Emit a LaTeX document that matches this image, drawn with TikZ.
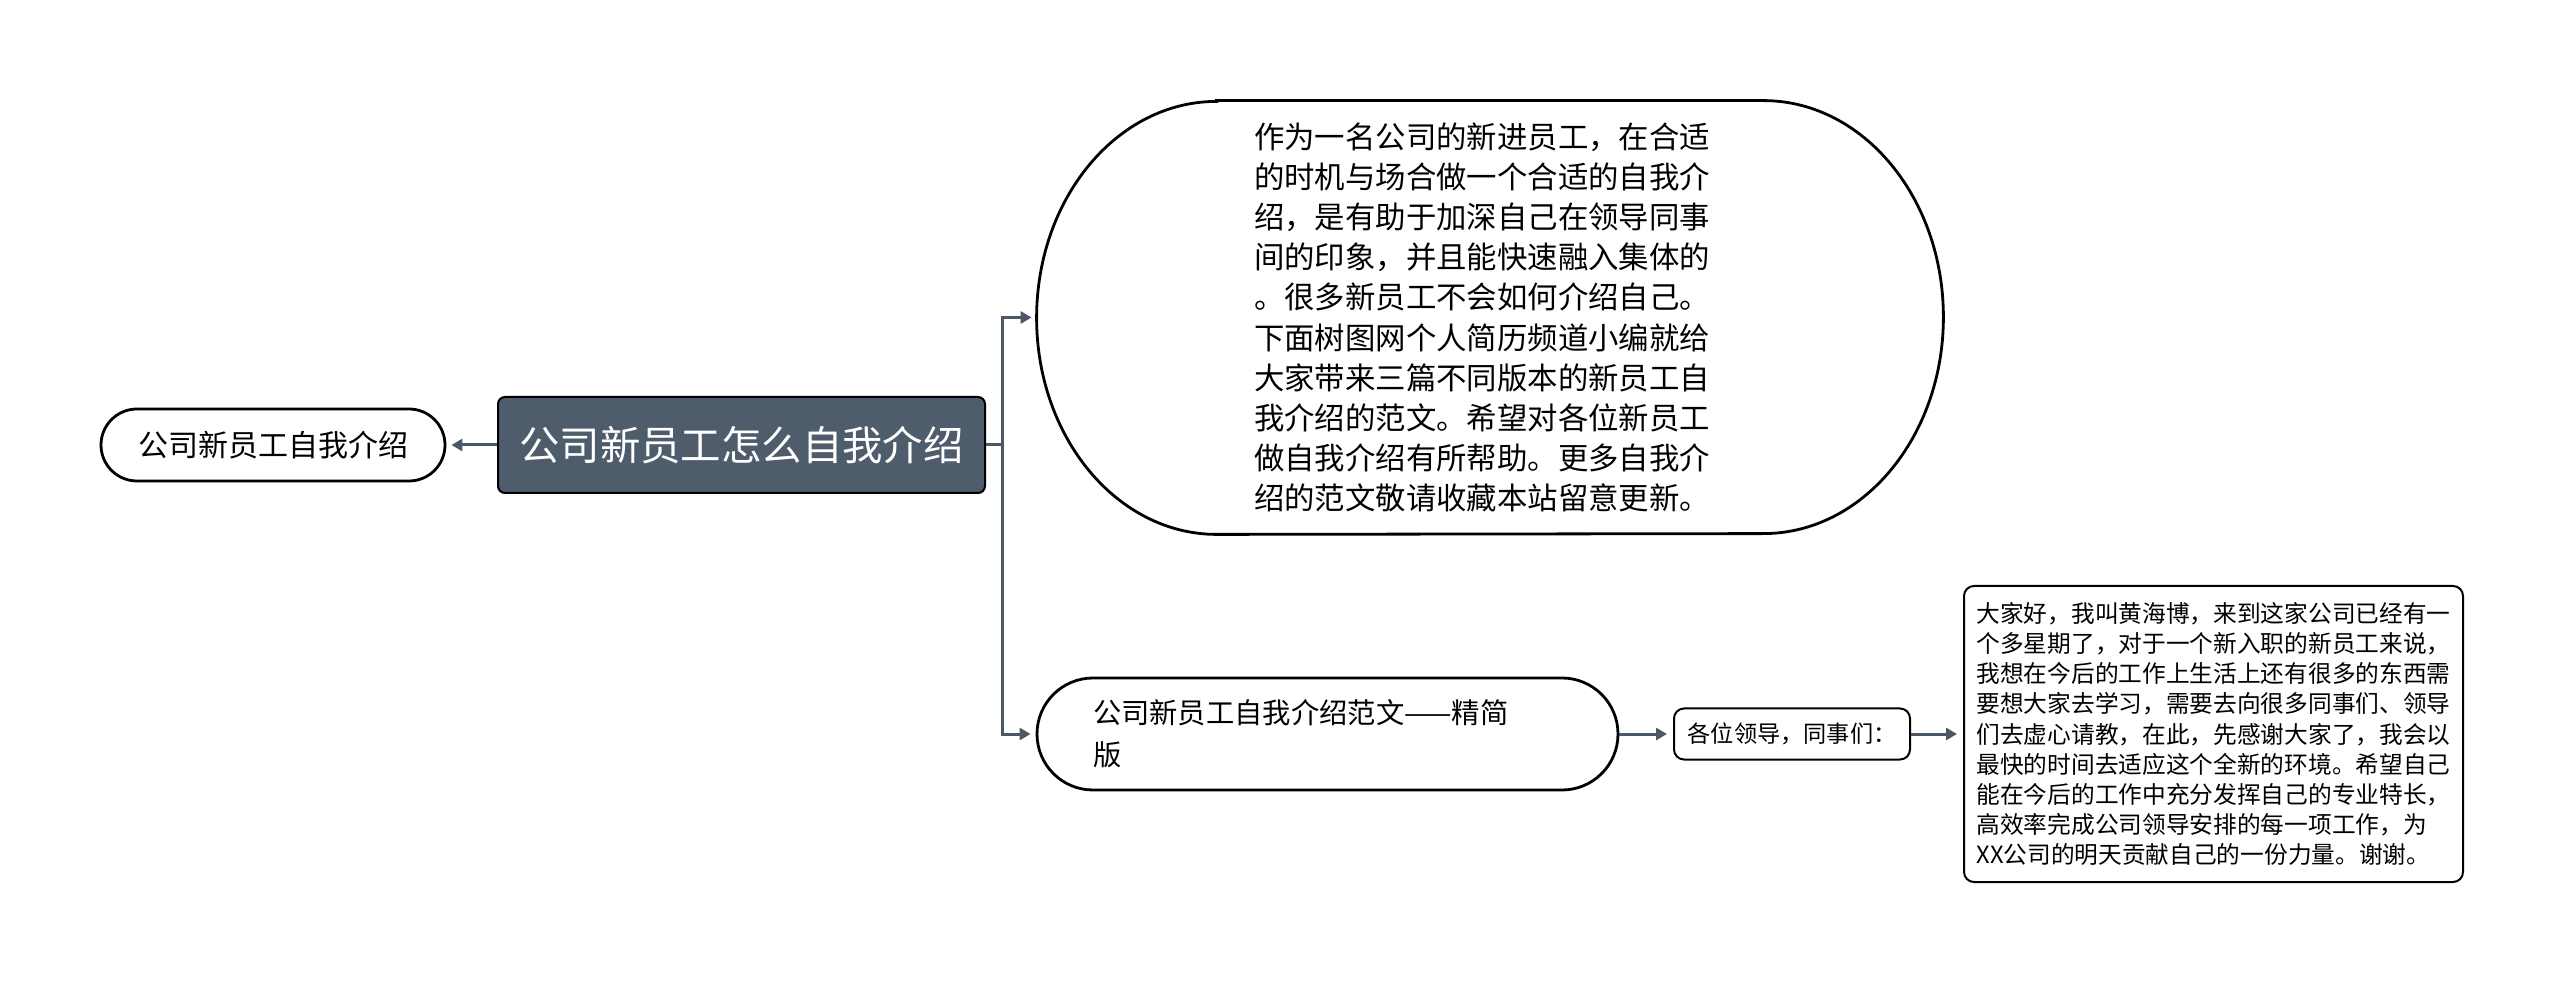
\documentclass[tikz,border=0pt]{standalone}
\usepackage{fontspec}
\setmainfont{Noto Sans CJK SC}
\usetikzlibrary{arrows.meta}
\definecolor{rootfill}{HTML}{4E5C6B}
\definecolor{linec}{HTML}{4A5867}
\tikzset{
  conn/.style={draw=linec, line width=1.5pt, -{Triangle[length=5.5pt,width=6pt]}, shorten >=2.5pt},
  rootbox/.style={draw=black, line width=1pt, fill=rootfill, text=white, rounded corners=3.5pt,
    minimum width=243.5pt, minimum height=48pt, inner sep=0pt,
    font=\fontsize{20.2pt}{24pt}\selectfont},
  pillbox/.style={draw=black, line width=1.4pt, fill=white, inner sep=0pt},
  smallbox/.style={draw=black, line width=1pt, fill=white, rounded corners=5pt, inner sep=0pt},
}
\begin{document}
\begin{tikzpicture}[x=0.5pt,y=0.5pt]
\useasboundingbox (0,0) rectangle (2560,-983);
% root
\node[rootbox] (R) at (741.5,-445) {公司新员工怎么自我介绍};
% left node
\node[pillbox, rounded corners=18pt, minimum width=172pt, minimum height=36pt,
  font=\fontsize{15pt}{18pt}\selectfont] (L) at (273,-445) {公司新员工自我介绍};
% big node (text block sits slightly left of the outline centre)
\node[inner sep=0pt, minimum width=453pt, minimum height=216.5pt, align=left,
  font=\fontsize{15.2pt}{20.1pt}\selectfont] (B) at (1482,-317.5)
  {作为一名公司的新进员工，在合适\\的时机与场合做一个合适的自我介\\绍，是有助于加深自己在领导同事\\间的印象，并且能快速融入集体的\\。很多新员工不会如何介绍自己。\\下面树图网个人简历频道小编就给\\大家带来三篇不同版本的新员工自\\我介绍的范文。希望对各位新员工\\做自我介绍有所帮助。更多自我介\\绍的范文敬请收藏本站留意更新。};
\draw[black, line width=1.4pt]
  ([xshift=94pt]B.north west) -- ([xshift=-86pt]B.north east)
  arc[start angle=90, end angle=0, x radius=90pt, y radius=108.25pt]
  arc[start angle=0, end angle=-90, x radius=90pt, y radius=108.25pt]
  -- ([xshift=94pt]B.south west)
  arc[start angle=270, end angle=180, x radius=90pt, y radius=108.25pt]
  arc[start angle=180, end angle=90, x radius=90pt, y radius=108.25pt]
  -- cycle;
% second branch
\node[pillbox, rounded corners=28pt, minimum height=56pt, inner xsep=28pt, inner ysep=0pt,
  text width=234.5pt, align=left, font=\fontsize{14.15pt}{21pt}\selectfont] (N2) at (1327.5,-734)
  {公司新员工自我介绍范文——精简\\版};
\node[smallbox, minimum width=118pt, minimum height=25.5pt,
  font=\fontsize{11.6pt}{14pt}\selectfont] (N3) at (1792,-734) {各位领导，同事们：};
\node[smallbox, minimum width=249.5pt, minimum height=148pt, align=left,
  font=\fontsize{11.85pt}{15.1pt}\selectfont] (N4) at (2213.5,-734)
  {大家好，我叫黄海博，来到这家公司已经有一\\个多星期了，对于一个新入职的新员工来说，\\我想在今后的工作上生活上还有很多的东西需\\要想大家去学习，需要去向很多同事们、领导\\们去虚心请教，在此，先感谢大家了，我会以\\最快的时间去适应这个全新的环境。希望自己\\能在今后的工作中充分发挥自己的专业特长，\\高效率完成公司领导安排的每一项工作，为\\XX公司的明天贡献自己的一份力量。谢谢。};
% connectors
\coordinate (tr) at (1002,-445);
\draw[conn] (R.west) -- (L.east);
\draw[conn] (R.east) -- (tr) |- ([xshift=4pt]B.west);
\draw[conn] (tr) |- (N2.west);
\draw[conn, shorten >=3pt] (N2.east) -- (N3.west);
\draw[conn, shorten >=3pt] (N3.east) -- (N4.west);
\end{tikzpicture}
\end{document}
